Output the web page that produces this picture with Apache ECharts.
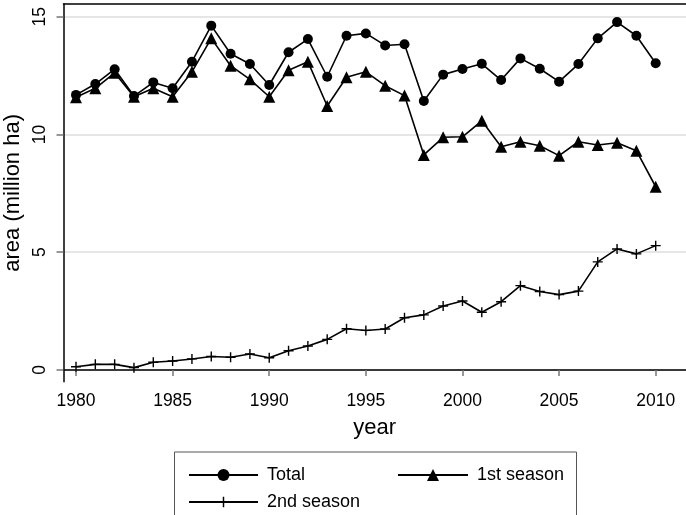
<!DOCTYPE html>
<html>
<head>
<meta charset="utf-8">
<script src="https://cdn.jsdelivr.net/npm/echarts@6/dist/echarts.min.js"></script>
<style>html,body{margin:0;padding:0;background:#fff}#c{width:686px;height:515px}</style>
</head>
<body>
<div id="c"></div>
<script>
var years = [1980,1981,1982,1983,1984,1985,1986,1987,1988,1989,1990,1991,1992,1993,1994,1995,1996,1997,1998,1999,2000,2001,2002,2003,2004,2005,2006,2007,2008,2009,2010];
var total = [11.68,12.14,12.77,11.63,12.21,11.96,13.09,14.62,13.43,12.99,12.10,13.49,14.05,12.45,14.19,14.29,13.78,13.83,11.42,12.54,12.78,13.00,12.31,13.23,12.79,12.24,12.99,14.08,14.77,14.19,13.02];
var season1 = [11.58,11.96,12.62,11.60,11.96,11.60,12.66,14.08,12.92,12.34,11.60,12.73,13.09,11.21,12.43,12.66,12.07,11.65,9.13,9.88,9.90,10.58,9.48,9.69,9.52,9.10,9.69,9.55,9.65,9.31,7.78];
var season2 = [0.14,0.24,0.24,0.10,0.33,0.38,0.47,0.57,0.54,0.68,0.52,0.82,1.02,1.30,1.75,1.68,1.74,2.22,2.34,2.72,2.93,2.45,2.90,3.58,3.33,3.20,3.35,4.59,5.14,4.93,5.28];
var xTicks = [1980,1985,1990,1995,2000,2005,2010];
var yTicks = [0,5,10,15];

function pairs(v){ return years.map(function(y,i){ return [y, v[i]]; }); }
var FONT = 'Liberation Sans, Arial, sans-serif';
var plus = 'path://M4.3,0H5.7V4.3H10V5.7H5.7V10H4.3V5.7H0V4.3H4.3Z';

var chart = echarts.init(document.getElementById('c'), null, {renderer:'canvas'});
var lineStyle = {color:'#000', width:1.6};
var legText = {fontSize:18, color:'#000', padding:[0,0,0,4]};
chart.setOption({
  animation:false,
  backgroundColor:'#fff',
  textStyle:{fontFamily:FONT},
  grid:{left:63.5, top:4, right:0, bottom:133.3, containLabel:false, outerBoundsMode:'none'},
  xAxis:[{
    type:'value', min:1979.353, max:2011.568,
    name:'year', nameLocation:'middle', nameGap:35,
    nameTextStyle:{fontSize:22, color:'#000', fontFamily:FONT},
    axisLine:{show:true, lineStyle:{color:'#000', width:1.5}},
    axisTick:{show:true, length:6, customValues:xTicks, lineStyle:{color:'#777', width:1.5}},
    axisLabel:{customValues:xTicks, fontSize:17.5, color:'#000', margin:10, fontFamily:FONT,
      formatter:function(v){ return String(v); }},
    splitLine:{show:false}
  },{
    type:'value', position:'top', min:0, max:1,
    axisLine:{show:true, lineStyle:{color:'#000', width:1.5}},
    axisTick:{show:false}, axisLabel:{show:false}, splitLine:{show:false}
  }],
  yAxis:{
    type:'value', min:-0.497, max:15.539,
    name:'area (million ha)', nameLocation:'middle', nameGap:37,
    nameTextStyle:{fontSize:22, color:'#000', fontFamily:FONT},
    axisLine:{show:true, lineStyle:{color:'#000', width:1.5}},
    axisTick:{show:true, length:7, customValues:yTicks, lineStyle:{color:'#777', width:1.5}},
    axisLabel:{customValues:yTicks, fontSize:17.5, color:'#000', rotate:90, margin:14, fontFamily:FONT},
    splitLine:{show:true, lineStyle:{color:'#dedede', width:1.5}}
  },
  legend:[
    {data:['Total'], left:183, top:461, itemWidth:69, itemHeight:15, itemGap:0, textStyle:legText},
    {data:['1st season'], left:392, top:461, itemWidth:70, itemHeight:15, itemGap:0, textStyle:legText},
    {data:['2nd season'], left:183, top:488, itemWidth:69, itemHeight:13, itemGap:0, textStyle:legText}
  ],
  graphic:[{type:'rect', shape:{x:174.5, y:452, width:402, height:70},
    style:{fill:'none', stroke:'#555', lineWidth:1}, silent:true, z:-1}],
  series:[
    {name:'Total', type:'line', data:pairs(total), symbol:'circle', symbolSize:10,
     lineStyle:lineStyle, itemStyle:{color:'#000'}},
    {name:'1st season', type:'line', data:pairs(season1), symbol:'triangle', symbolSize:12,
     lineStyle:lineStyle, itemStyle:{color:'#000'}},
    {name:'2nd season', type:'line', data:pairs(season2), symbol:plus, symbolSize:10,
     lineStyle:lineStyle, itemStyle:{color:'#000'}}
  ]
});
</script>
</body>
</html>
